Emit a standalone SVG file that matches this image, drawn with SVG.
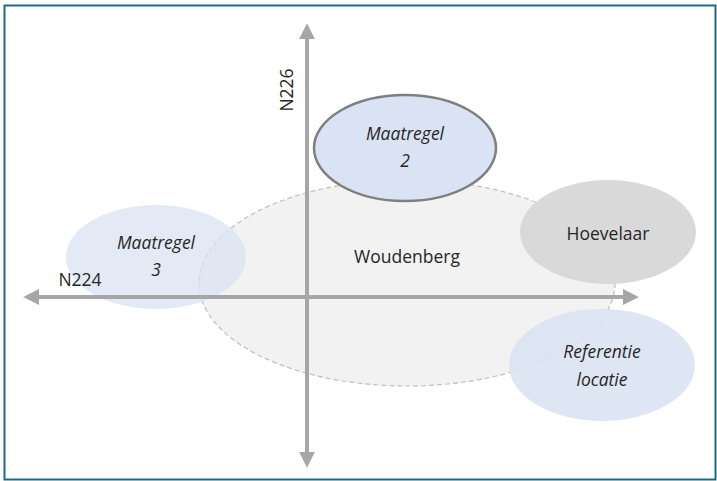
<svg xmlns="http://www.w3.org/2000/svg" width="717" height="481" viewBox="0 0 717 481">
<style>
text{font-family:"Open Sans","Liberation Sans",sans-serif;font-size:17.5px;fill:#262626;text-anchor:middle}
.it{font-style:italic}
.ax{stroke:#a6a6a6;stroke-width:4;fill:none}
</style>
<defs>
<marker id="ah" viewBox="0 0 10 10" refX="2" refY="5" markerWidth="4" markerHeight="4" orient="auto" markerUnits="strokeWidth">
<path d="M0,0 L10,5 L0,10 Z" fill="#a6a6a6"/>
</marker>
</defs>
<rect x="0" y="0" width="717" height="481" fill="#ffffff"/>
<rect x="4.5" y="5.5" width="711" height="474" fill="none" stroke="#1f6b80" stroke-width="2"/>
<g id="woudenberg">
<ellipse cx="407" cy="283" rx="208" ry="103" fill="#f2f2f2" stroke="#bfbfbf" stroke-width="1.2" stroke-dasharray="5 3"/>
<text x="407" y="263">Woudenberg</text>
</g>
<g id="maatregel3">
<ellipse cx="156" cy="257" rx="90" ry="52" fill="#dae3f3" fill-opacity="0.75"/>
<text class="it" x="156" y="249">Maatregel</text>
<text class="it" x="156" y="276">3</text>
</g>
<g id="hoevelaar">
<ellipse cx="608" cy="232" rx="88" ry="52" fill="#d9d9d9"/>
<text x="608" y="240">Hoevelaar</text>
</g>
<g id="referentie">
<ellipse cx="602" cy="365" rx="93" ry="56" fill="#dae3f3" fill-opacity="0.9"/>
<text class="it" x="602" y="358">Referentie</text>
<text class="it" x="602" y="386">locatie</text>
</g>
<g id="connectors">
<line class="ax" x1="307" y1="297" x2="307" y2="36" marker-end="url(#ah)"/>
<line class="ax" x1="307" y1="297" x2="307" y2="455" marker-end="url(#ah)"/>
<line class="ax" x1="307" y1="297" x2="36" y2="297" marker-end="url(#ah)"/>
<line class="ax" x1="307" y1="297" x2="626" y2="297" marker-end="url(#ah)"/>
</g>
<g id="maatregel2">
<ellipse cx="405" cy="148" rx="91" ry="53" fill="#dae3f3" stroke="#7f7f7f" stroke-width="2.5"/>
<text class="it" x="405" y="140">Maatregel</text>
<text class="it" x="405" y="167">2</text>
</g>
<g id="labels">
<text x="0" y="0" transform="translate(293,90) rotate(-90)">N226</text>
<text x="80" y="286">N224</text>
</g>
</svg>
